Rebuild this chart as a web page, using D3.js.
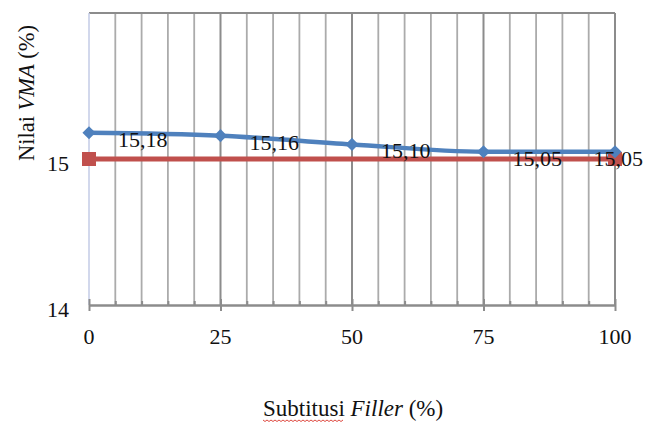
<!DOCTYPE html>
<html><head><meta charset="utf-8">
<script src="https://cdn.jsdelivr.net/npm/d3@7"></script>
<style>
html,body{margin:0;padding:0;background:#fff;}
text{font-family:"Liberation Serif","Times New Roman",serif;fill:#111;}
</style></head>
<body>
<svg id="c" width="657" height="425"></svg>
<script>
const categories = [0, 25, 50, 75, 100];
const vmaValues = [15.18, 15.16, 15.10, 15.05, 15.05];
const vmaLabels = ["15,18", "15,16", "15,10", "15,05", "15,05"];
const specX = [0, 100];
const specValues = [15, 15];
const yTicks = [14, 15];
const xTicks = [0, 25, 50, 75, 100];
const minorGrid = d3.range(0, 101, 5);

const svg = d3.select("#c");
const L = 89, R = 615, T = 13, B = 305;
const x = d3.scaleLinear().domain([0, 100]).range([L, R]);
const y = d3.scaleLinear().domain([14, 16]).range([B, T]);

// vertical gridlines
svg.append("g").selectAll("line").data(minorGrid.filter(d => d > 0)).join("line")
  .attr("x1", d => x(d)).attr("x2", d => x(d))
  .attr("y1", T).attr("y2", B)
  .attr("stroke", d => d % 25 === 0 ? "#8c8c8c" : "#ababab")
  .attr("stroke-width", d => d % 25 === 0 ? 2 : 1.8);

// top border
svg.append("line").attr("x1", L).attr("x2", R).attr("y1", T).attr("y2", T)
  .attr("stroke", "#8c8c8c").attr("stroke-width", 2);
// y axis line (pale blue)
svg.append("line").attr("x1", L).attr("x2", L).attr("y1", T).attr("y2", B)
  .attr("stroke", "#c3cbe6").attr("stroke-width", 1.5);

// x axis
const xAxis = d3.axisBottom(x).tickValues(minorGrid).tickSize(0).tickFormat("");
const gx = svg.append("g").attr("transform", `translate(0,${B})`).call(xAxis);
gx.select(".domain").attr("stroke", "#8c8c8c").attr("stroke-width", 2.5);
gx.selectAll(".tick line").remove();
gx.selectAll(".tick").append("line")
  .attr("y1", d => d % 25 === 0 ? -6 : -4)
  .attr("y2", d => d % 25 === 0 ? 6 : 0)
  .attr("stroke", "#8c8c8c").attr("stroke-width", 2);
svg.append("g").selectAll("text").data(xTicks).join("text")
  .attr("x", d => x(d)).attr("y", 344)
  .attr("text-anchor", "middle").attr("font-size", 22)
  .text(d => d);

// y tick labels
svg.append("g").selectAll("text").data(yTicks).join("text")
  .attr("x", 69).attr("y", d => y(d) + 12)
  .attr("text-anchor", "end").attr("font-size", 22)
  .text(d => d);

// red spec series
const line = d3.line().x(d => x(d[0])).y(d => y(d[1]));
const spec = specX.map((d, i) => [d, specValues[i]]);
svg.append("path").datum(spec).attr("d", line)
  .attr("fill", "none").attr("stroke", "#c0504d").attr("stroke-width", 5);
svg.append("g").selectAll("rect").data(spec).join("rect")
  .attr("x", d => x(d[0]) - 7).attr("y", d => y(d[1]) - 7)
  .attr("width", 14).attr("height", 14).attr("fill", "#c0504d");

// blue VMA series
const vma = categories.map((d, i) => [d, vmaValues[i]]);
svg.append("path").datum(vma).attr("d", line.curve(d3.curveMonotoneX))
  .attr("fill", "none").attr("stroke", "#4f81bd").attr("stroke-width", 4.5);
svg.append("g").selectAll("path").data(vma).join("path")
  .attr("d", d3.symbol(d3.symbolDiamond2, 110))
  .attr("transform", d => `translate(${x(d[0])},${y(d[1])})`)
  .attr("fill", "#4f81bd");

// data labels
svg.append("g").selectAll("text").data(vma).join("text")
  .attr("font-size", 22)
  .attr("y", d => y(d[1]) + 14)
  .text((d, i) => vmaLabels[i])
  .each(function(d) {
    const w = this.getComputedTextLength();
    this.setAttribute("x", Math.min(x(d[0]) + 29, 643 - w));
  });

// axis titles
const yt = svg.append("text").attr("transform", "translate(34,93) rotate(-90)")
  .attr("text-anchor", "middle").attr("font-size", 22.5);
yt.append("tspan").text("Nilai ");
yt.append("tspan").attr("font-style", "italic").text("VMA");
yt.append("tspan").text(" (%)");

const xt = svg.append("text").attr("x", 263).attr("y", 416)
  .attr("font-size", 23);
const t1 = xt.append("tspan").text("Subtitusi");
xt.append("tspan").text(" ");
xt.append("tspan").attr("font-style", "italic").text("Filler");
xt.append("tspan").text(" (%)");

// spell-check squiggle under "Subtitusi"
const sw = t1.node().getComputedTextLength();
const sq = d3.range(0, Math.floor(sw / 2) + 1).map(i => [263 + i * 2, 420 + (i % 2 ? 1.5 : 0)]);
svg.append("path").attr("d", d3.line()(sq))
  .attr("fill", "none").attr("stroke", "#d9362b").attr("stroke-width", 0.9);
</script>
</body></html>
